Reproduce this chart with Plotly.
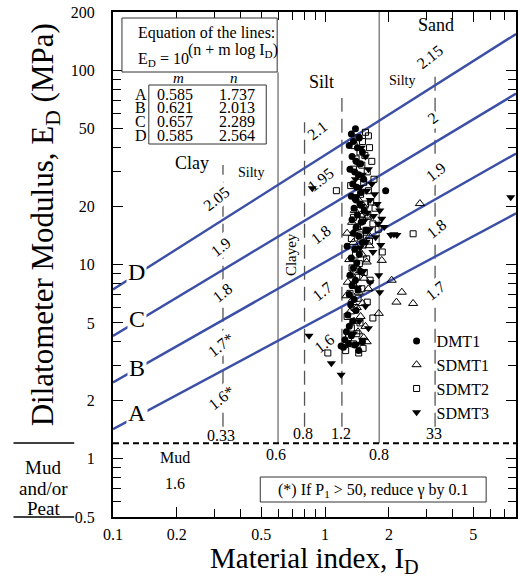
import plotly.graph_objects as go
import numpy as np

FONT = "Liberation Serif"

# ---- equation lines (E_D in bar -> MPa by n-1) ----
line_names = ["A", "B", "C", "D"]
table_m = ["0.585", "0.621", "0.657", "0.585"]
table_n = ["1.737", "2.013", "2.289", "2.564"]
line_m = [0.585, 0.621, 0.657, 0.693]   # slope as drawn in the figure
line_n = [1.737, 2.013, 2.289, 2.564]

# ---- zone boundaries ----
solid_x = [0.6, 1.8]
solid_top = [98, 200]
dash_x = [0.33, 0.8, 1.2, 3.3]
dash_top = [32.6, 54, 72, 98]
dash_bottom = 1.46
mud_limit = 1.2

# ---- data ----
dmt1_id = [1.39,1.33,1.45,1.36,1.30,1.42,1.50,1.34,1.40,1.47,1.31,1.38,1.44,1.52,1.35,1.41,1.93,1.48,1.33,1.40,
           1.46,1.37,1.53,1.42,1.34,1.48,1.40,1.56,1.36,1.44,1.27,1.50,1.38,1.45,1.33,1.41,1.36,1.47,1.31,1.39,
           1.34,1.43,1.30,1.37,1.32,1.40,1.28,1.35,1.30,1.26,1.33,1.24,1.29,1.22,1.38,1.44,1.50,1.19]
dmt1_ed = [50,47,45,43,41,40,38,36,34,33,31,30,29,27.5,26,25,24,23.5,22.5,21.5,
           20.5,19.5,19,18,17,16.5,15.5,15,14.5,14,12.4,13,12,11.3,10.8,10.2,9.6,9.2,8.8,8.3,
           7.8,7.4,7.0,6.6,6.2,5.8,5.5,5.1,4.8,4.5,4.3,4.1,3.9,3.75,3.85,3.6,4.0,3.8]

sdmt1_id = [1.44,1.52,1.38,1.47,1.58,1.34,1.27,1.42,1.55,1.48,1.36,1.62,1.43,1.50,1.30,1.57,1.40,1.46,1.33,1.53,
            1.28,1.38,1.60,1.44,1.26,1.35,1.50,1.41,1.31,1.47,1.37,1.55,1.43,1.52,1.57,
            2.06,2.30,2.17,2.60,1.79,2.80,1.85,1.62]
sdmt1_ed = [21.5,20,19,18,17.5,16.5,14.5,15.5,14.5,13.5,13,12.5,12,11.2,10.6,10.3,9.8,9.3,8.9,8.5,
            8.1,7.7,7.5,7.2,6.9,6.6,6.3,6.0,5.7,5.4,5.1,4.8,4.5,4.2,4.0,
            8.3,7.2,6.4,6.3,5.6,20.6,10.5,14.0]

sdmt2_id = [1.55,1.60,1.43,1.50,1.37,1.62,1.46,1.54,1.40,1.66,1.49,1.36,1.58,1.44,1.70,1.52,1.32,1.13,1.60,1.47,
            1.39,1.64,1.55,1.72,1.45,1.59,1.36,1.50,1.68,1.42,1.56,1.78,2.60,1.47,1.33,1.62,1.51,1.86,1.39,1.57,
            1.45,1.34,1.53,1.41,1.63,1.36,1.49,1.31,1.43,1.58,1.68,1.37,1.27,1.46,1.33,1.41,1.29,1.36,1.51,1.03,1.44,1.25]
sdmt2_ed = [48,46,45,43,41,40,38,36.5,35,34,32.5,31,30,28.5,27.5,26.5,25.5,24,24,23,
            22,21,20.5,19.5,19,18,17.5,16.8,16.2,15.6,15,15.2,14.4,14.2,13.6,13.2,12.6,11.6,11.2,10.7,
            10.1,9.6,9.1,8.6,8.3,7.9,7.5,7.1,6.7,6.4,5.3,6.0,5.4,5.0,4.7,4.4,4.2,3.9,3.7,3.5,3.5,3.6]

sdmt3_id = [1.48,1.55,1.43,1.60,1.50,1.39,1.66,1.46,0.87,1.57,1.71,1.41,1.63,1.76,1.49,1.81,1.58,1.69,1.85,1.53,
            1.78,1.90,1.62,2.04,2.11,2.18,1.73,1.56,1.83,1.46,1.68,1.79,1.81,1.51,1.63,1.42,1.55,1.45,1.60,1.36,
            1.50,1.42,0.84,1.07,1.19,7.5]
sdmt3_ed = [40,36,33,31,29,27.5,26,25,24.7,24,23,22.5,21.5,20.5,20,19,18.5,17.8,17.2,16.8,
            16.2,15.6,15.2,14.2,14.3,14.2,13.8,13.1,12.6,12.2,11.6,8.8,7.2,9.2,8.1,7.6,6.1,5.1,4.7,4.4,
            4.1,3.9,4.3,3.1,2.7,22.2]

# ---- text labels ----
x_ticks = [0.1, 0.2, 0.5, 1, 2, 5]
y_ticks = [0.5, 1, 2, 5, 10, 20, 50, 100, 200]
gamma_clay = ["2.05", "1.9", "1.8", "1.7*", "1.6*"]
gamma_silt = ["2.1", "1.95", "1.8", "1.7", "1.6"]
gamma_sand = ["2.15", "2", "1.9", "1.8", "1.7"]

X0, X1 = 0.1, 10 ** 0.9
L, R, T, B = 113, 2, 12, 60
W, H = 520, 577
PW, PH = W - L - R, H - T - B


def px(xp):
    return (xp - L) / PW


def py(yp):
    return (T + PH - yp) / PH


fig = go.Figure()

# zone boundaries
for xv, top in zip(solid_x, solid_top):
    fig.add_trace(go.Scatter(x=[xv, xv], y=[mud_limit, top], mode="lines",
                             line=dict(color="#8a8a8a", width=1.6), showlegend=False, hoverinfo="skip"))
for xv, top in zip(dash_x, dash_top):
    fig.add_trace(go.Scatter(x=[xv, xv], y=[dash_bottom, top], mode="lines",
                             line=dict(color="#555555", width=1.3, dash="14px,7px"),
                             showlegend=False, hoverinfo="skip"))
fig.add_trace(go.Scatter(x=[X0, X1], y=[mud_limit, mud_limit], mode="lines",
                         line=dict(color="black", width=2, dash="6px,4px"), showlegend=False, hoverinfo="skip"))

# equation lines
for name, m, n in zip(line_names, line_m, line_n):
    xs = np.array([X0, X1])
    ys = 10 ** (n - 1 + m * np.log10(xs))
    fig.add_trace(go.Scatter(x=xs, y=ys, mode="lines", line=dict(color="#3b4fa6", width=2.4),
                             showlegend=False, hoverinfo="skip"))

# data
fig.add_trace(go.Scatter(x=dmt1_id, y=dmt1_ed, mode="markers", name="DMT1",
                         marker=dict(symbol="circle", size=7, color="black")))
fig.add_trace(go.Scatter(x=sdmt1_id, y=sdmt1_ed, mode="markers", name="SDMT1",
                         marker=dict(symbol="triangle-up-open", size=8, color="black", line=dict(width=1))))
fig.add_trace(go.Scatter(x=sdmt2_id, y=sdmt2_ed, mode="markers", name="SDMT2",
                         marker=dict(symbol="square-open", size=6, color="black", line=dict(width=1))))
fig.add_trace(go.Scatter(x=sdmt3_id, y=sdmt3_ed, mode="markers", name="SDMT3",
                         marker=dict(symbol="triangle-down", size=8, color="black")))

ann = []


def txt(s, xp, yp, size, angle=0, bg=None, xanchor="center", yanchor="middle", italic=False):
    d = dict(text=s, x=px(xp), y=py(yp), xref="paper", yref="paper", showarrow=False,
             font=dict(family=FONT, size=size, color="black", style="italic" if italic else "normal"),
             textangle=angle, xanchor=xanchor, yanchor=yanchor)
    if bg:
        d["bgcolor"] = bg
        d["borderpad"] = 1
    ann.append(d)


# equation box text
txt("Equation of the lines:", 136, 33, 16, xanchor="left")
txt("E<sub>D</sub> = 10", 136, 60, 16, xanchor="left")
txt("(n + m log I<sub>D</sub>)", 186, 51, 16, xanchor="left")
txt("m", 179, 78, 15, italic=True)
txt("n", 235, 78, 15, italic=True)
for i, (nm, mv, nv) in enumerate(zip(line_names, table_m, table_n)):
    yy = 94 + i * 13.7
    txt(nm, 141, yy, 16)
    txt(mv, 155, yy, 16, xanchor="left")
    txt(nv, 218, yy, 16, xanchor="left")

# line letters
for nm, yy in zip(["D", "C", "B", "A"], [272, 319, 368, 413]):
    txt(nm, 137, yy, 24, bg="white")

# zone names
txt("Clay", 192, 163, 18)
txt("Silty", 252, 173, 14)
txt("Silt", 323, 82, 18)
txt("Sand", 438, 25, 18)
txt("Silty", 403, 80, 14)
txt("Clayey", 292, 255, 15, angle=-90)
txt("Mud", 175, 457, 16)
txt("1.6", 175, 484, 16)

# gamma labels
for s, (xx, yy) in zip(gamma_clay, [(217, 198), (222, 247), (223, 292), (222, 345), (222, 397)]):
    txt(s, xx, yy, 16, angle=-38, bg="white")
for s, (xx, yy) in zip(gamma_silt, [(318, 130), (322, 180), (322, 235), (323, 291), (325, 343)]):
    txt(s, xx, yy, 16, angle=-38)
for s, (xx, yy) in zip(gamma_sand, [(432, 57), (435, 118), (438, 172), (438, 228), (437, 290)]):
    txt(s, xx, yy, 16, angle=-38, bg="white")

# boundary values
txt("0.33", 222, 435, 16)
txt("0.8", 304, 433, 16)
txt("1.2", 342, 433, 16)
txt("33", 436, 433, 16)
txt("0.6", 277, 454, 16)
txt("0.8", 380, 454, 16)

# footnote
txt("(*) If P<sub>1</sub> > 50, reduce γ by 0.1", 375, 490, 16)

# axis titles & mud label
txt("Dilatometer Modulus, E<sub>D</sub> (MPa)", 45, 225, 31, angle=-90)
txt("Material index, I<sub>D</sub>", 315, 560, 29)
txt("Mud", 43, 467, 19)
txt("and/or", 43, 488, 19)
txt("Peat", 43, 508, 19)

shapes = [
    dict(type="rect", xref="paper", yref="paper", x0=px(122), x1=px(278), y0=py(18), y1=py(72),
         line=dict(color="#333", width=1), fillcolor="white", layer="above"),
    dict(type="rect", xref="paper", yref="paper", x0=px(149), x1=px(267), y0=py(85), y1=py(144),
         line=dict(color="#333", width=1), fillcolor="rgba(0,0,0,0)", layer="above"),
    dict(type="rect", xref="paper", yref="paper", x0=px(261), x1=px(488), y0=py(477), y1=py(502),
         line=dict(color="#333", width=1), fillcolor="white", layer="above"),
    dict(type="line", xref="paper", yref="paper", x0=px(13), x1=px(74), y0=py(443), y1=py(443),
         line=dict(color="black", width=1.5)),
    dict(type="line", xref="paper", yref="paper", x0=px(13), x1=px(74), y0=py(517), y1=py(517),
         line=dict(color="black", width=1.5)),
]


def minor_ticks(lo_dec, hi_dec, vmin, vmax, major):
    vals = []
    for d in range(lo_dec, hi_dec + 1):
        for k in range(1, 10):
            v = round(k * 10 ** d, 6)
            if vmin - 1e-9 <= v <= vmax + 1e-9 and v not in major:
                vals.append(v)
    return vals


xminor = minor_ticks(-1, 0, 0.1, X1, x_ticks)
yminor = minor_ticks(-1, 2, 0.5, 200, y_ticks)

axis_common = dict(type="log", showgrid=False, zeroline=False, showline=True, linecolor="black",
                   linewidth=2, mirror="allticks", ticks="inside", ticklen=10, tickwidth=1.3,
                   tickcolor="black", tickfont=dict(family=FONT, size=16, color="black"))

fig.update_layout(
    width=W, height=H, margin=dict(l=L, r=R, t=T, b=B),
    paper_bgcolor="white", plot_bgcolor="white",
    xaxis=dict(range=[-1, 0.9], tickvals=x_ticks, ticktext=["%g" % v for v in x_ticks],
               ticklabelstandoff=2,
               minor=dict(tickvals=xminor, ticks="inside", ticklen=8, tickwidth=1.2, tickcolor="black",
                          showgrid=False),
               **axis_common),
    yaxis=dict(range=[np.log10(0.5), np.log10(200)], tickvals=y_ticks, ticktext=["%g" % v for v in y_ticks],
               ticklabelstandoff=13,
               minor=dict(tickvals=yminor, ticks="inside", ticklen=8, tickwidth=1.2, tickcolor="black",
                          showgrid=False),
               **axis_common),
    legend=dict(x=px(398), y=py(324), xanchor="left", yanchor="top", bgcolor="rgba(0,0,0,0)",
                font=dict(family=FONT, size=16, color="black"), tracegroupgap=0),
    annotations=ann, shapes=shapes,
)

fig.write_html("out.html")
